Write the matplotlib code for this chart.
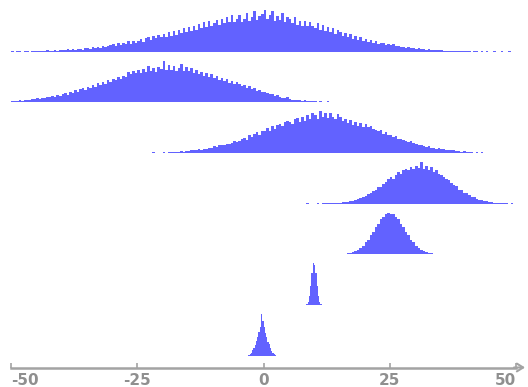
import numpy as np
import matplotlib
matplotlib.use("Agg")
import matplotlib.pyplot as plt

# ---- data (histogram counts, top row first) ----
row1_start, row1_width = -50.0, 0.5
row1_counts = [
    1, 0, 1, 2, 0, 1, 1, 0, 2, 1,
    2, 1, 3, 2, 4, 2, 3, 5, 3, 4,
    6, 4, 7, 5, 8, 6, 9, 7, 6, 10,
    11, 9, 13, 12, 15, 11, 17, 14, 16, 19,
    22, 17, 25, 19, 27, 22, 31, 24, 32, 27,
    32, 38, 29, 41, 44, 35, 47, 40, 51, 43,
    52, 43, 58, 47, 61, 50, 66, 55, 70, 58,
    75, 62, 78, 66, 84, 70, 88, 74, 92, 77,
    86, 96, 80, 99, 85, 103, 88, 108, 90, 97,
    110, 90, 99, 114, 93, 104, 120, 96, 106, 112,
    124, 97, 110, 121, 92, 106, 95, 115, 90, 103,
    98, 86, 104, 81, 93, 78, 92, 76, 90, 77,
    71, 85, 66, 79, 62, 75, 58, 71, 54, 65,
    60, 47, 57, 43, 52, 39, 48, 35, 44, 33,
    39, 29, 36, 26, 32, 24, 27, 25, 20, 24,
    19, 22, 16, 18, 14, 15, 12, 13, 11, 10,
    9, 10, 7, 8, 6, 7, 5, 6, 4, 5,
    4, 3, 3, 2, 3, 2, 1, 2, 2, 1,
    1, 1, 0, 1, 2, 0, 1, 0, 1, 0,
    0, 1, 0, 0, 1, 0, 0, 1, 0, 0,
]

row2_start, row2_width = -50.0, 0.5
row2_counts = [
    4, 5, 3, 6, 5, 7, 8, 6, 9, 10,
    12, 10, 14, 13, 16, 15, 19, 17, 22, 20,
    25, 29, 23, 32, 28, 36, 32, 39, 42, 36,
    47, 42, 51, 46, 57, 51, 62, 55, 66, 60,
    70, 66, 76, 71, 80, 75, 90, 84, 93, 87,
    96, 88, 101, 90, 107, 94, 103, 92, 105, 99,
    124, 96, 110, 98, 109, 93, 104, 113, 95, 106,
    93, 103, 88, 97, 84, 92, 80, 88, 77, 84,
    73, 80, 68, 74, 64, 70, 59, 65, 55, 61,
    56, 48, 52, 44, 48, 39, 43, 35, 38, 32,
    30, 27, 24, 25, 20, 21, 15, 14, 12, 15,
    9, 7, 8, 6, 7, 5, 6, 4, 5, 3,
    4, 2, 3, 2, 1, 3, 2, 1, 2, 1,
    1, 1, 0, 2, 1, 0, 1, 1, 0, 1,
    0, 1, 0, 0, 1, 0, 0, 1, 0, 0,
    0, 0, 1, 0, 0, 0, 1, 0, 0, 0,
]

row3_start, row3_width = -35.0, 0.5
row3_counts = [
    0, 0, 1, 0, 0, 0, 0, 1, 0, 0,
    0, 1, 0, 0, 1, 0, 0, 0, 1, 0,
    0, 1, 0, 1, 1, 0, 2, 1, 0, 1,
    2, 1, 3, 2, 3, 4, 3, 5, 4, 6,
    6, 8, 7, 9, 10, 9, 12, 11, 14, 13,
    19, 17, 21, 23, 22, 26, 25, 29, 32, 30,
    34, 40, 41, 37, 49, 43, 54, 57, 49, 61,
    60, 68, 62, 74, 67, 78, 80, 75, 85, 89,
    87, 79, 93, 96, 86, 99, 90, 104, 95, 110,
    106, 93, 115, 99, 110, 96, 112, 101, 94, 108,
    99, 88, 95, 82, 91, 78, 87, 75, 84, 72,
    79, 71, 76, 66, 65, 60, 64, 54, 58, 51,
    50, 44, 47, 40, 39, 35, 34, 30, 33, 27,
    26, 23, 22, 20, 18, 19, 15, 15, 12, 13,
    11, 10, 8, 9, 7, 7, 5, 6, 4, 5,
    3, 2, 3, 1, 2, 1, 2, 1, 1, 0,
    1, 0, 1, 0, 0, 1, 0, 1, 0, 1,
]

row4_start, row4_width = 7.5, 0.5
row4_counts = [
    0, 0, 1, 0, 0,
    0, 1, 0, 1, 1, 2, 1, 2, 3, 2,
    3, 4, 5, 4, 7, 8, 10, 12, 14, 18,
    20, 26, 27, 33, 35, 43, 45, 53, 57, 65,
    70, 66, 77, 83, 79, 90, 93, 88, 98, 92,
    100, 94, 110, 93, 101, 88, 96, 85, 90, 79,
    76, 70, 65, 62, 56, 50, 47, 37, 36, 29,
    27, 22, 19, 17, 13, 11, 9, 8, 6, 5,
    4, 3, 3, 2, 1, 2, 1, 0, 1, 0,
]

row5_start, row5_width = 14.0, 0.5
row5_counts = [
    2, 4, 5, 8, 15, 22, 38, 51, 83, 110,
    163, 211, 291, 360, 466, 549, 665, 748, 852, 908,
    981, 1012, 990, 975, 905, 851, 747, 664, 548, 462,
    359, 292, 210, 162, 111, 83, 52, 37, 22, 15,
    8, 5, 3, 1,
]

row6_start, row6_width = 8.25, 0.25
row6_counts = [5, 23, 82, 214, 462, 750, 985, 960, 760, 455, 218, 78, 24, 6]

row7_start, row7_width = -3.0, 0.25
row7_counts = [1, 3, 7, 13, 19, 26, 35, 45, 56, 70, 100, 84, 69, 55, 44,
               34, 27, 19, 12, 7, 3, 1]

tick_values = [-50, -25, 0, 25, 50]
tick_labels = ["-50", "-25", "0", "25", "50"]

rows = [
    (row1_start, row1_width, row1_counts),
    (row2_start, row2_width, row2_counts),
    (row3_start, row3_width, row3_counts),
    (row4_start, row4_width, row4_counts),
    (row5_start, row5_width, row5_counts),
    (row6_start, row6_width, row6_counts),
    (row7_start, row7_width, row7_counts),
]

# ---- layout ----
W, H = 528, 387
row_px = 50.67          # spacing between ridge baselines in pixels
axis_y_px = 367.5       # axis line position from top
gap = 11.8 / row_px     # gap between lowest ridge and axis line
ridge_h = 0.82          # ridge height relative to spacing
fill_color = "#6262ff"
axis_color = "#a3a3a3"

fig = plt.figure(figsize=(W / 100, H / 100), dpi=100)
ax = fig.add_axes([11 / W, (H - axis_y_px) / H, 505 / W, axis_y_px / H])
y0 = -gap
ax.set_xlim(-50, 50)
ax.set_ylim(y0, y0 + axis_y_px / row_px)

n = len(rows)
for i, (start, width, counts) in enumerate(rows):
    base = n - 1 - i
    c = np.asarray(counts, dtype=float)
    h = c / c.max() * ridge_h
    edges = start + width * np.arange(len(c) + 1)
    ax.stairs(base + h, edges, baseline=base, fill=True,
              color=fill_color, linewidth=0)

for side in ("top", "left", "right"):
    ax.spines[side].set_visible(False)
ax.spines["bottom"].set_position(("data", y0))
ax.spines["bottom"].set_color(axis_color)
ax.spines["bottom"].set_linewidth(1.8)
ax.set_yticks([])
ax.set_xticks(tick_values)
ax.set_xticklabels(tick_labels)
ax.tick_params(axis="x", direction="in", length=3.5, width=1.2,
               color=axis_color, labelcolor="#8f8f8f", labelsize=11, pad=4)
labels = ax.get_xticklabels()
for lbl in labels:
    lbl.set_fontweight("bold")
labels[0].set_horizontalalignment("left")
labels[-1].set_horizontalalignment("right")

ax.annotate("", xy=(51.8, y0), xytext=(49.6, y0), xycoords="data",
            arrowprops=dict(arrowstyle="->,head_length=0.45,head_width=0.28",
                            color=axis_color, lw=1.5, shrinkA=0, shrinkB=0),
            annotation_clip=False)

fig.savefig("out.png", dpi=100)
